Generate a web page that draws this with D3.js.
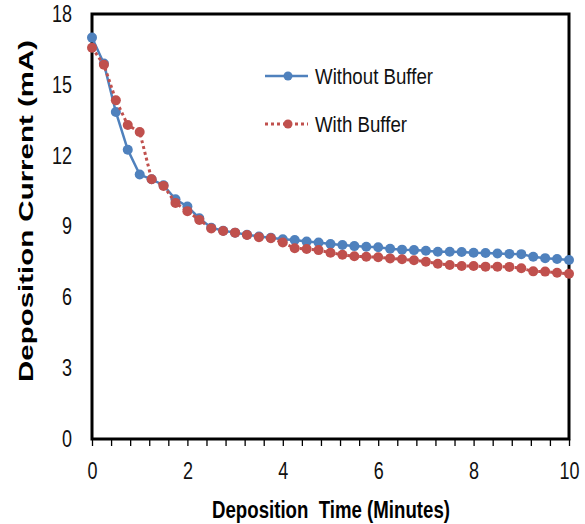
<!DOCTYPE html>
<meta charset="utf-8">
<head>
  <title>Deposition current</title>
</head>
<script src="https://d3js.org/d3.v7.min.js"></script>
<style>
  body { margin: 0; background: white; }
  .narrow { font-family: "Liberation Sans", Arial, sans-serif; }
</style>
<body>
  <div id="chart"></div>
</body>
<script>
  // time in minutes, one reading every 15 s
  var times = [0, 0.25, 0.5, 0.75, 1, 1.25, 1.5, 1.75, 2, 2.25, 2.5, 2.75, 3, 3.25, 3.5, 3.75,
    4, 4.25, 4.5, 4.75, 5, 5.25, 5.5, 5.75, 6, 6.25, 6.5, 6.75, 7, 7.25, 7.5, 7.75,
    8, 8.25, 8.5, 8.75, 9, 9.25, 9.5, 9.75, 10];
  var withoutBuffer = [17.0, 15.9, 13.85, 12.25, 11.2, 11.0, 10.75, 10.15, 9.85, 9.35, 8.95, 8.82,
    8.74, 8.65, 8.58, 8.52, 8.46, 8.43, 8.36, 8.32, 8.26, 8.22, 8.17, 8.14, 8.12, 8.06, 8.02, 8.0,
    7.97, 7.93, 7.93, 7.92, 7.89, 7.88, 7.86, 7.84, 7.83, 7.72, 7.66, 7.62, 7.58];
  var withBuffer = [16.57, 15.85, 14.35, 13.3, 13.0, 11.0, 10.72, 10.0, 9.65, 9.28, 8.92, 8.81,
    8.74, 8.64, 8.55, 8.5, 8.32, 8.08, 8.05, 8.0, 7.89, 7.8, 7.74, 7.72, 7.7, 7.65, 7.61, 7.57,
    7.51, 7.42, 7.37, 7.33, 7.33, 7.3, 7.3, 7.29, 7.23, 7.1, 7.09, 7.04, 7.0];
  var xLabels = [0, 2, 4, 6, 8, 10];
  var xMinor = [0, 0.4, 0.8, 1.2, 1.6, 2, 2.4, 2.8, 3.2, 3.6, 4, 4.4, 4.8, 5.2, 5.6, 6,
    6.4, 6.8, 7.2, 7.6, 8, 8.4, 8.8, 9.2, 9.6, 10];
  var yLabels = [0, 3, 6, 9, 12, 15, 18];
  var seriesNames = ["Without Buffer", "With Buffer"];
  var legendWidths = [118, 92];

  var blue = "#4F81BD", red = "#C0504D";
  var W = 585, H = 524;
  var margin = { top: 14, right: 16, bottom: 85, left: 92 },
    width = W - margin.left - margin.right,
    height = H - margin.top - margin.bottom;

  var svg = d3.select("#chart").append("svg")
    .attr("width", W).attr("height", H)
    .append("g")
    .attr("transform", "translate(" + margin.left + "," + margin.top + ")");

  var x = d3.scaleLinear().domain([0, 10]).range([0, width]);
  var y = d3.scaleLinear().domain([0, 18]).range([height, 0]);

  // narrow look: squeeze each label to ~10px per digit
  var squeeze = function (sel) {
    sel.attr("class", "narrow").style("font-size", "23px").attr("fill", "#111")
      .attr("textLength", function (d) { return String(d).length * 10; })
      .attr("lengthAdjust", "spacingAndGlyphs");
  };

  // minor ticks under the x axis
  var xMinorAxis = svg.append("g")
    .attr("transform", "translate(0," + height + ")")
    .call(d3.axisBottom(x).tickValues(xMinor).tickFormat("").tickSize(7).tickSizeOuter(0));
  xMinorAxis.select(".domain").remove();
  xMinorAxis.selectAll("line").attr("stroke", "black").attr("stroke-width", 1.3);

  var xAxis = svg.append("g")
    .attr("transform", "translate(0," + height + ")")
    .call(d3.axisBottom(x).tickValues(xLabels).tickSize(0).tickPadding(24));
  xAxis.select(".domain").remove();
  xAxis.selectAll("text").call(squeeze);

  var yAxis = svg.append("g")
    .call(d3.axisLeft(y).tickValues(yLabels).tickSize(0).tickPadding(20));
  yAxis.select(".domain").remove();
  yAxis.selectAll("text").call(squeeze);

  // frame
  svg.append("rect")
    .attr("x", 0).attr("y", 0)
    .attr("width", width).attr("height", height)
    .attr("fill", "none").attr("stroke", "black").attr("stroke-width", 3);

  var line = function (vals) {
    return d3.line()
      .x(function (d, i) { return x(times[i]); })
      .y(function (d) { return y(d); })(vals);
  };

  svg.append("path")
    .attr("d", line(withoutBuffer))
    .attr("fill", "none").attr("stroke", blue).attr("stroke-width", 2.5);
  svg.append("g").selectAll("circle")
    .data(withoutBuffer).enter().append("circle")
    .attr("cx", function (d, i) { return x(times[i]); })
    .attr("cy", function (d) { return y(d); })
    .attr("r", 5).attr("fill", blue);

  svg.append("path")
    .attr("d", line(withBuffer))
    .attr("fill", "none").attr("stroke", red).attr("stroke-width", 3)
    .attr("stroke-dasharray", "3,3");
  svg.append("g").selectAll("circle")
    .data(withBuffer).enter().append("circle")
    .attr("cx", function (d, i) { return x(times[i]); })
    .attr("cy", function (d) { return y(d); })
    .attr("r", 5).attr("fill", red);

  // legend
  var legend = svg.append("g").attr("transform", "translate(173,62)");
  legend.append("line").attr("x1", 0).attr("x2", 43).attr("y1", 0).attr("y2", 0)
    .attr("stroke", blue).attr("stroke-width", 2.5);
  legend.append("circle").attr("cx", 23).attr("cy", 0).attr("r", 4.5).attr("fill", blue);
  legend.append("line").attr("x1", 0).attr("x2", 43).attr("y1", 48).attr("y2", 48)
    .attr("stroke", red).attr("stroke-width", 3).attr("stroke-dasharray", "3,3");
  legend.append("circle").attr("cx", 23).attr("cy", 48).attr("r", 4.5).attr("fill", red);
  legend.selectAll("text").data(seriesNames).enter().append("text")
    .attr("class", "narrow")
    .attr("x", 50).attr("y", function (d, i) { return i * 48 + 8; })
    .style("font-size", "22px").attr("fill", "#111")
    .attr("textLength", function (d, i) { return legendWidths[i]; })
    .attr("lengthAdjust", "spacingAndGlyphs")
    .text(function (d) { return d; });

  // axis titles
  svg.append("text")
    .attr("class", "narrow")
    .attr("x", 239).attr("y", 518 - margin.top)
    .attr("text-anchor", "middle")
    .style("font-size", "23px").style("font-weight", "bold").style("white-space", "pre")
    .attr("textLength", 238).attr("lengthAdjust", "spacingAndGlyphs")
    .text("Deposition  Time (Minutes)");

  svg.append("text")
    .attr("transform", "translate(" + (33 - margin.left) + "," + (211 - margin.top) + ") rotate(-90)")
    .attr("text-anchor", "middle")
    .style("font-family", "'Liberation Sans', Arial, sans-serif")
    .style("font-size", "20px").style("font-weight", "bold")
    .attr("textLength", 342).attr("lengthAdjust", "spacingAndGlyphs")
    .text("Deposition Current (mA)");
</script>
